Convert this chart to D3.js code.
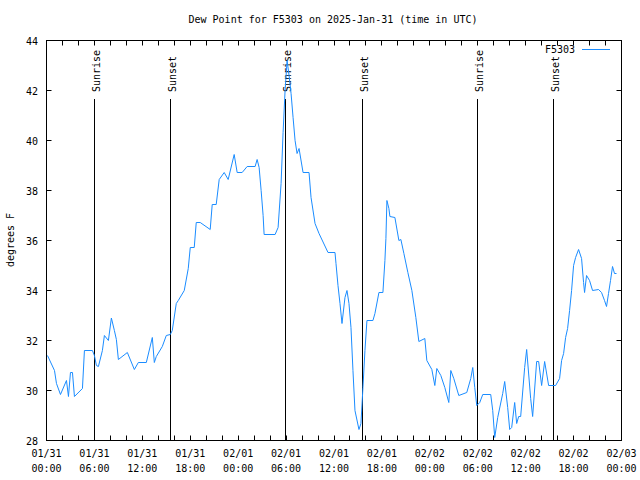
<!DOCTYPE html>
<html><head><meta charset="utf-8">
<script src="https://cdn.jsdelivr.net/npm/d3@7"></script>
<style>body{margin:0;background:#fff}text{font-family:"DejaVu Sans Mono",monospace;font-size:10px;fill:#000}</style>
</head><body>
<svg id="c" width="640" height="480"></svg>
<script>
const title = "Dew Point for F5303 on 2025-Jan-31 (time in UTC)";
const seriesName = "F5303";
const yLabel = "degrees F";
const startTime = "2025-01-31T00:00:00Z";
// hours since start
const hours = [0.125,1.0,1.25,1.75,2.5,2.75,3.0,3.25,3.5,4.5,4.75,5.75,6.0,6.25,6.5,7.0,7.25,7.75,8.125,8.5,8.75,9.0,10.125,11.0,11.5,12.5,13.25,13.5,13.75,14.5,15.0,15.5,15.75,16.25,16.5,17.25,17.75,18.0,18.5,18.75,19.25,20.5,20.75,21.25,21.625,22.25,22.75,23.5,23.875,24.5,25.125,26.125,26.375,26.625,26.875,27.125,27.25,28.625,29.0,29.375,29.625,29.875,30.125,30.375,30.625,30.875,31.125,31.375,31.625,32.125,32.875,33.125,33.625,34.125,35.25,36.125,36.25,36.5,36.75,37.0,37.375,37.625,37.875,38.125,38.375,38.625,39.125,39.375,39.625,39.875,40.125,40.875,41.125,41.625,42.125,42.375,42.5,42.625,42.875,43.0,43.625,44.125,44.375,44.75,45.25,45.75,46.25,46.625,47.375,47.625,48.25,48.625,48.875,49.375,49.875,50.375,50.625,51.0,51.625,52.625,53.125,53.375,53.625,53.875,54.25,54.625,55.625,55.875,56.125,56.5,57.125,57.375,57.75,58.0,58.25,58.625,58.875,59.125,59.375,59.875,60.125,60.625,60.875,61.375,61.625,62.0,62.375,62.875,63.75,64.25,64.5,64.75,65.0,65.25,65.5,65.75,66.0,66.25,66.625,67.0,67.25,67.375,67.625,68.0,68.375,69.125,69.5,69.875,70.125,70.375,70.625,70.875,71.125,71.375];
const dewPoint = [31.4,30.8,30.28,29.84,30.4,29.76,30.72,30.72,29.76,30.08,31.6,31.6,31.4,31.0,30.96,31.6,32.2,32.0,32.9,32.4,32.04,31.24,31.52,30.84,31.12,31.12,32.12,31.12,31.36,31.76,32.2,32.24,32.4,33.48,33.6,34.0,34.88,35.72,35.72,36.72,36.72,36.44,37.44,37.44,38.44,38.72,38.44,39.44,38.72,38.72,38.96,38.96,39.24,38.92,38.0,37.0,36.24,36.24,36.52,38.28,40.32,42.0,43.2,42.6,41.88,40.92,40.0,39.48,39.68,38.72,38.72,37.72,36.68,36.28,35.52,35.52,35.08,34.2,33.48,32.68,33.72,34.0,33.48,32.52,30.8,29.2,28.44,28.68,30.12,31.6,32.8,32.8,33.08,33.92,33.92,35.2,36.08,37.6,37.28,36.96,36.92,36.0,36.04,35.48,34.72,34.0,32.92,31.96,32.08,31.2,30.84,30.2,30.88,30.6,30.12,29.52,30.8,30.48,29.8,29.92,30.48,30.92,30.12,29.4,29.52,29.84,29.84,29.2,28.12,28.92,29.88,30.36,29.32,28.44,28.52,29.52,28.68,28.96,28.96,30.92,31.64,29.68,28.96,31.16,31.16,30.2,31.16,30.2,30.2,30.48,31.2,31.48,32.12,32.48,33.2,34.0,35.0,35.32,35.64,35.28,34.32,33.92,34.6,34.4,34.0,34.04,33.92,33.6,33.36,33.88,34.4,34.96,34.68,34.68];
const eventNames = ["Sunrise","Sunset","Sunrise","Sunset","Sunrise","Sunset"];
const eventHours = [6.03,15.53,29.92,39.54,53.91,63.54];
const yTicks = [28,30,32,34,36,38,40,42,44];

const svg = d3.select("#c");
const L=46.5, R=621.5, T=40.5, B=440.5;
const t0 = new Date(startTime);
const toDate = h => new Date(t0.getTime()+h*3600000);
const x = d3.scaleUtc().domain([t0, toDate(72)]).range([L,R]);
const y = d3.scaleLinear().domain([28,44]).range([B,T]);
const px = v => Math.round(v-0.5)+0.5;

// title
svg.append("text").attr("x",333).attr("y",23).attr("text-anchor","middle").text(title);
// y label
svg.append("text").attr("transform","translate(14,240) rotate(-90)").attr("text-anchor","middle").text(yLabel);

const tk=5;
const g = svg.append("g").attr("stroke","#000").attr("stroke-width",1).attr("fill","none");
// x ticks every 2h
d3.range(0,73,2).map(toDate).forEach(d=>{
  const xx=px(x(d));
  g.append("line").attr("x1",xx).attr("x2",xx).attr("y1",B).attr("y2",B-tk);
  g.append("line").attr("x1",xx).attr("x2",xx).attr("y1",T).attr("y2",T+tk);
});
yTicks.forEach(v=>{
  const yy=px(y(v));
  g.append("line").attr("x1",L).attr("x2",L+tk).attr("y1",yy).attr("y2",yy);
  g.append("line").attr("x1",R).attr("x2",R-tk).attr("y1",yy).attr("y2",yy);
  svg.append("text").attr("x",38).attr("y",y(v)+4).attr("text-anchor","end").text(v);
});
// x labels every 6h
const fmtD=d3.utcFormat("%m/%d"), fmtT=d3.utcFormat("%H:%M");
d3.range(0,73,6).map(toDate).forEach(d=>{
  svg.append("text").attr("x",x(d)).attr("y",457).attr("text-anchor","middle").text(fmtD(d));
  svg.append("text").attr("x",x(d)).attr("y",472).attr("text-anchor","middle").text(fmtT(d));
});

// event lines
eventHours.forEach((h,i)=>{
  const xx=px(x(toDate(h)));
  g.append("line").attr("x1",xx).attr("x2",xx).attr("y1",99).attr("y2",B);
  svg.append("text").attr("transform",`translate(${xx+5.5},92) rotate(-90)`).attr("text-anchor","start").text(eventNames[i]);
});

// frame
g.append("rect").attr("x",L).attr("y",T).attr("width",R-L).attr("height",B-T);

// data line
const data = hours.map((h,i)=>({d:toDate(h),v:dewPoint[i]}));
svg.append("path").datum(data).attr("fill","none").attr("stroke","#1a8cff").attr("stroke-width",1)
  .attr("d",d3.line().x(p=>x(p.d)).y(p=>y(p.v)));

// legend
svg.append("text").attr("x",575).attr("y",53).attr("text-anchor","end").text(seriesName);
svg.append("line").attr("x1",582).attr("x2",610).attr("y1",49.5).attr("y2",49.5).attr("stroke","#1a8cff");
</script>
</body></html>
